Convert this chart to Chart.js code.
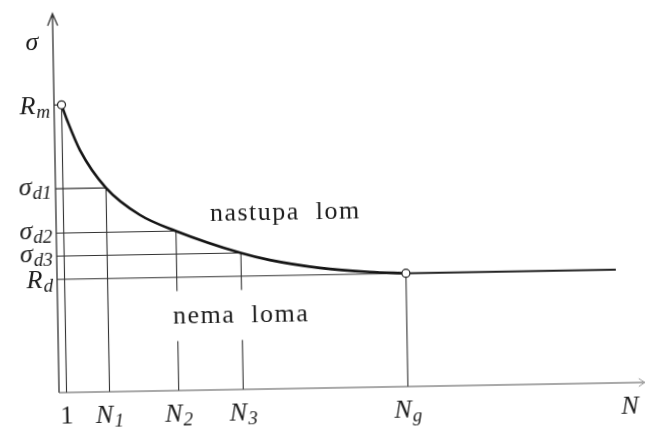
<!DOCTYPE html>
<html>
<head>
<meta charset="utf-8">
<script src="https://cdn.jsdelivr.net/npm/chart.js@4.4.1/dist/chart.umd.min.js"></script>
<style>
    html, body { margin: 0; padding: 0; background: #fff; overflow: hidden; }
    #wrap { width: 647px; height: 430px; transform: rotate(-1deg); transform-origin: 50% 50%; }
</style>
</head>
<body>
<div id="wrap"><canvas id="woehler" width="647" height="430"></canvas></div>
<script>
// Woehler (S-N) curve, schematic: both axes in relative units 0..100
const curveN = [1.28, 1.67, 2.17, 4.28, 8.62, 14.33, 20.43, 31.45, 36.38, 44.90, 53.41, 59.56];
const curveSigma = [75.9, 74.1, 71.9, 63.9, 53.8, 46.5, 42.1, 36.0, 34.0, 31.7, 30.4, 29.9];

const enduranceN = [59.56, 95.4];
const enduranceSigma = [29.9, 29.9];

// stress levels on the curve and their N
const levelLabels = [['R', 'm'], ['σ', 'd1'], ['σ', 'd2'], ['σ', 'd3'], ['R', 'd']];
const levelSigma = [75.9, 53.8, 42.1, 36.0, 29.9];
const levelN = [1.28, 8.62, 20.43, 31.45, 59.56];
const nLabels = [['1', ''], ['N', '1'], ['N', '2'], ['N', '3'], ['N', 'g']];

const axisTitleX = 'N';
const axisTitleY = 'σ';
const axisTitleXPos = 97.4;

const regionLabels = ['nastupa  lom', 'nema  loma'];
const regionN = [39.15, 31.3];
const regionSigma = [44.6, 17.8];

const ink = '#1c1c1c';
const fam = '"Liberation Serif", serif';

function subText(ctx, main, sub, x, y, align, upright) {
    const mainFont = (upright ? '' : 'italic ') + '26px ' + fam;
    const subFont = 'italic 19px ' + fam;
    ctx.font = mainFont;
    const w1 = ctx.measureText(main).width;
    ctx.font = subFont;
    const w2 = sub ? ctx.measureText(sub).width + 1 : 0;
    const total = w1 + w2;
    let x0 = x;
    if (align === 'right') x0 = x - total;
    if (align === 'center') x0 = x - total / 2;
    ctx.textAlign = 'left';
    ctx.textBaseline = 'alphabetic';
    ctx.font = mainFont;
    ctx.fillText(main, x0, y);
    if (sub) {
        ctx.font = subFont;
        ctx.fillText(sub, x0 + w1 + 1, y + 4);
    }
}

const guideSets = levelN.map((n, i) => ({
    data: [{x: 0, y: levelSigma[i]}, {x: n, y: levelSigma[i]}, {x: n, y: 0}],
    showLine: true,
    borderColor: '#333',
    borderWidth: 1.1,
    pointRadius: 0,
    clip: false,
    order: 3
}));

const sketchPlugin = {
    id: 'sketch',
    afterDatasetsDraw(chart) {
        const ctx = chart.ctx;
        const xs = chart.scales.x, ys = chart.scales.y;
        // white box behind "nema loma" cuts the N2 / N3 lines
        ctx.save();
        ctx.font = '26px ' + fam;
        ctx.letterSpacing = '1.5px';
        const w = ctx.measureText(regionLabels[1]).width;
        const bx = xs.getPixelForValue(regionN[1]);
        const by = ys.getPixelForValue(regionSigma[1]);
        ctx.fillStyle = '#fff';
        ctx.fillRect(bx - w / 2 - 6, by - 32, w + 12, 50);
        ctx.restore();
    },
    afterDraw(chart) {
        const ctx = chart.ctx;
        const a = chart.chartArea;
        const xs = chart.scales.x, ys = chart.scales.y;
        ctx.save();

        // axes
        ctx.strokeStyle = '#333';
        ctx.lineWidth = 1.3;
        ctx.beginPath();
        ctx.moveTo(a.left, a.bottom);
        ctx.lineTo(a.left, a.top);
        ctx.moveTo(a.left - 5, a.top + 12);
        ctx.lineTo(a.left, a.top);
        ctx.lineTo(a.left + 5, a.top + 12);
        ctx.stroke();

        ctx.strokeStyle = '#555';
        ctx.lineWidth = 1.2;
        ctx.beginPath();
        ctx.moveTo(a.left, a.bottom);
        ctx.lineTo(a.right, a.bottom);
        ctx.stroke();
        ctx.strokeStyle = '#999';
        ctx.lineWidth = 1;
        ctx.beginPath();
        ctx.moveTo(a.right - 6, a.bottom - 4);
        ctx.lineTo(a.right, a.bottom);
        ctx.lineTo(a.right - 6, a.bottom + 4);
        ctx.stroke();

        ctx.fillStyle = ink;

        // stress labels on the left
        levelLabels.forEach((l, i) => {
            const y = ys.getPixelForValue(levelSigma[i]);
            const off = l[0] === 'R' ? 8.5 : 5.5;
            subText(ctx, l[0], l[1], a.left - 4, y + off, 'right', false);
        });
        ctx.font = 'italic 26px ' + fam;
        ctx.textAlign = 'center';
        ctx.fillText(axisTitleY, a.left - 21, a.top + 36);

        // N labels below the axis
        nLabels.forEach((l, i) => {
            const x = xs.getPixelForValue(levelN[i]);
            subText(ctx, l[0], l[1], x, a.bottom + 31, 'center', l[0] === '1');
        });
        ctx.font = 'italic 26px ' + fam;
        ctx.textAlign = 'center';
        ctx.fillText(axisTitleX, xs.getPixelForValue(axisTitleXPos), a.bottom + 31);

        // region texts
        ctx.font = '26px ' + fam;
        ctx.letterSpacing = '1.5px';
        ctx.textAlign = 'center';
        regionLabels.forEach((t, i) => {
            ctx.fillText(t, xs.getPixelForValue(regionN[i]), ys.getPixelForValue(regionSigma[i]));
        });
        ctx.restore();
    }
};

new Chart(document.getElementById('woehler'), {
    type: 'scatter',
    data: {
        datasets: [
            {
                data: [
                    {x: levelN[0], y: levelSigma[0]},
                    {x: levelN[4], y: levelSigma[4]}
                ],
                pointRadius: 4,
                pointBorderWidth: 1.2,
                pointBackgroundColor: '#fff',
                pointBorderColor: '#222',
                clip: false,
                order: 0
            },
            {
                data: curveN.map((n, i) => ({x: n, y: curveSigma[i]})),
                showLine: true,
                cubicInterpolationMode: 'monotone',
                borderColor: '#151515',
                borderWidth: 2.6,
                pointRadius: 0,
                clip: false,
                order: 1
            },
            {
                data: enduranceN.map((n, i) => ({x: n, y: enduranceSigma[i]})),
                showLine: true,
                borderColor: '#222',
                borderWidth: 2,
                pointRadius: 0,
                clip: false,
                order: 2
            },
            ...guideSets
        ]
    },
    options: {
        responsive: false,
        animation: false,
        events: [],
        layout: { padding: { left: 56, top: 9, right: 5, bottom: 42 } },
        scales: {
            x: { type: 'linear', min: 0, max: 100, display: false },
            y: { type: 'linear', min: 0, max: 100, display: false }
        },
        plugins: {
            legend: { display: false },
            tooltip: { enabled: false }
        }
    },
    plugins: [sketchPlugin]
});
</script>
</body>
</html>
